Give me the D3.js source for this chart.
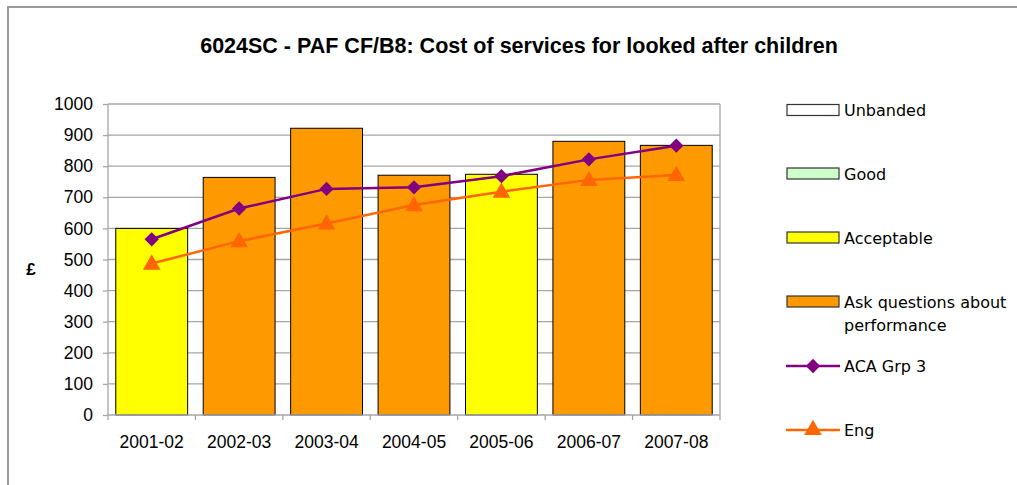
<!DOCTYPE html>
<html><head><meta charset="utf-8">
<script src="https://cdn.jsdelivr.net/npm/d3@7"></script>
<style>body{margin:0;background:#fff}svg{display:block}</style>
</head><body>
<script>
const categories = ["2001-02","2002-03","2003-04","2004-05","2005-06","2006-07","2007-08"];
const values = [600, 764, 922, 771, 774, 880, 867];
const bands = ["Acceptable","Ask questions about performance","Ask questions about performance","Ask questions about performance","Acceptable","Ask questions about performance","Ask questions about performance"];
const acaGrp3 = [565, 664, 727, 732, 768, 822, 866];
const eng = [487, 559, 616, 675, 718, 756, 772];
const yTicks = [0,100,200,300,400,500,600,700,800,900,1000];
const bandNames = ["Unbanded","Good","Acceptable","Ask questions about performance"];
const bandColors = ["#FFFFFF","#CCFFCC","#FFFF00","#FF9900"];
const title = "6024SC - PAF CF/B8: Cost of services for looked after children";

(function(){
const W = 1017, H = 485;
const svg = d3.select("body").append("svg").attr("width", W).attr("height", H);
svg.append("rect").attr("width", W).attr("height", H).attr("fill", "#fff");
// outer frame
svg.append("path").attr("d", `M8,${H} V7 H${W}`).attr("fill","none").attr("stroke","#999").attr("stroke-width",2);

const pL = 108, pR = 720, pT = 104, pB = 415;
const x = d3.scaleBand().domain(categories).range([pL, pR]).paddingInner(0.178).paddingOuter(0.089);
const xb = d3.scaleBand().domain(categories).range([pL, pR]);
const y = d3.scaleLinear().domain([0, 1000]).range([pB, pT]);
const color = d3.scaleOrdinal().domain(bandNames).range(bandColors);

// title
svg.append("text").attr("x", 519).attr("y", 53).attr("text-anchor","middle")
  .attr("font-family","Liberation Sans, Arial, sans-serif").attr("font-weight","bold").attr("font-size",21.5)
  .text(title);

// gridlines
svg.append("g").selectAll("line").data(yTicks.filter(d=>d>0)).join("line")
  .attr("x1", pL).attr("x2", pR).attr("y1", d=>y(d)).attr("y2", d=>y(d))
  .attr("stroke","#a6a6a6").attr("stroke-width",1.3);
svg.append("line").attr("x1", pR).attr("x2", pR).attr("y1", pT).attr("y2", pB).attr("stroke","#a6a6a6").attr("stroke-width",1.3);

// bars
svg.append("g").selectAll("rect").data(categories).join("rect")
  .attr("x", d=>x(d)).attr("width", x.bandwidth())
  .attr("y", (d,i)=>y(values[i])).attr("height", (d,i)=>y(0)-y(values[i]))
  .attr("fill", (d,i)=>color(bands[i])).attr("stroke","#000").attr("stroke-width",1);

// axes
const yAxis = svg.append("g").attr("transform", `translate(${pL},0)`)
  .call(d3.axisLeft(y).tickValues(yTicks).tickSize(5).tickPadding(10).tickFormat(d3.format("d")));
const xAxis = svg.append("g").attr("transform", `translate(0,${pB})`)
  .call(d3.axisBottom(xb).tickSize(5).tickPadding(16));
xAxis.selectAll(".tick line").remove();
xAxis.append("g").selectAll("line").data(categories.concat(["end"])).join("line")
  .attr("x1",(d,i)=>pL + i*xb.step()).attr("x2",(d,i)=>pL + i*xb.step())
  .attr("y1",0).attr("y2",5).attr("stroke","#a6a6a6").attr("stroke-width",1.3);
[yAxis, xAxis].forEach(g=>{
  g.select(".domain").attr("stroke","#a6a6a6").attr("stroke-width",1.3);
  g.selectAll(".tick line").attr("stroke","#a6a6a6").attr("stroke-width",1.3);
  g.selectAll("text").attr("font-family","Liberation Sans, Arial, sans-serif").attr("font-size",17.5).attr("fill","#000");
});
yAxis.select(".domain").attr("d", `M0,${pB}V${pT}`);
xAxis.select(".domain").attr("d", `M${pL},0H${pR}`);

// £ label
svg.append("text").attr("x", 31).attr("y", 275).attr("text-anchor","middle")
  .attr("font-family","Liberation Sans, Arial, sans-serif").attr("font-weight","bold").attr("font-size",17).text("£");

// lines
const cx = (d,i)=> x(categories[i]) + x.bandwidth()/2;
const line = d3.line().x((d,i)=>cx(d,i)).y(d=>y(d));
svg.append("path").datum(eng).attr("d", line).attr("fill","none").attr("stroke","#FF6600").attr("stroke-width",2.5);
svg.append("path").datum(acaGrp3).attr("d", line).attr("fill","none").attr("stroke","#800080").attr("stroke-width",2.5);

const diamond = d3.symbol().type(d3.symbolDiamond2).size(130);
const tri = d3.symbol().type(d3.symbolTriangle).size(135);
svg.append("g").selectAll("path").data(eng).join("path")
  .attr("transform",(d,i)=>`translate(${cx(d,i)},${y(d)+1})`).attr("d", tri).attr("fill","#FF6600");
svg.append("g").selectAll("path").data(acaGrp3).join("path")
  .attr("transform",(d,i)=>`translate(${cx(d,i)},${y(d)})`).attr("d", diamond).attr("fill","#800080");

// legend
const lg = svg.append("g").attr("font-family","DejaVu Sans, Tahoma, sans-serif").attr("font-size",16).attr("fill","#000");
const legY = [110, 173.5, 237.5, 301.5];
bandNames.forEach((n,i)=>{
  lg.append("rect").attr("x",787).attr("y",legY[i]-5.5).attr("width",52).attr("height",11)
    .attr("fill", color(n)).attr("stroke","#333").attr("stroke-width",1.2);
});
lg.append("text").attr("x",844).attr("y",legY[0]+6).text("Unbanded");
lg.append("text").attr("x",844).attr("y",legY[1]+6).text("Good");
lg.append("text").attr("x",844).attr("y",legY[2]+6).text("Acceptable");
lg.append("text").attr("x",844).attr("y",legY[3]+6).text("Ask questions about");
lg.append("text").attr("x",844).attr("y",legY[3]+29).text("performance");
const legL = [{n:"ACA Grp 3", c:"#800080", s:diamond, y:366},{n:"Eng", c:"#FF6600", s:tri, y:430}];
legL.forEach(o=>{
  lg.append("line").attr("x1",786).attr("x2",840).attr("y1",o.y).attr("y2",o.y).attr("stroke",o.c).attr("stroke-width",2.5);
  lg.append("path").attr("transform",`translate(813,${o.y})`).attr("d",o.s).attr("fill",o.c);
  lg.append("text").attr("x",844).attr("y",o.y+6).text(o.n);
});
})();
</script>
</body></html>
